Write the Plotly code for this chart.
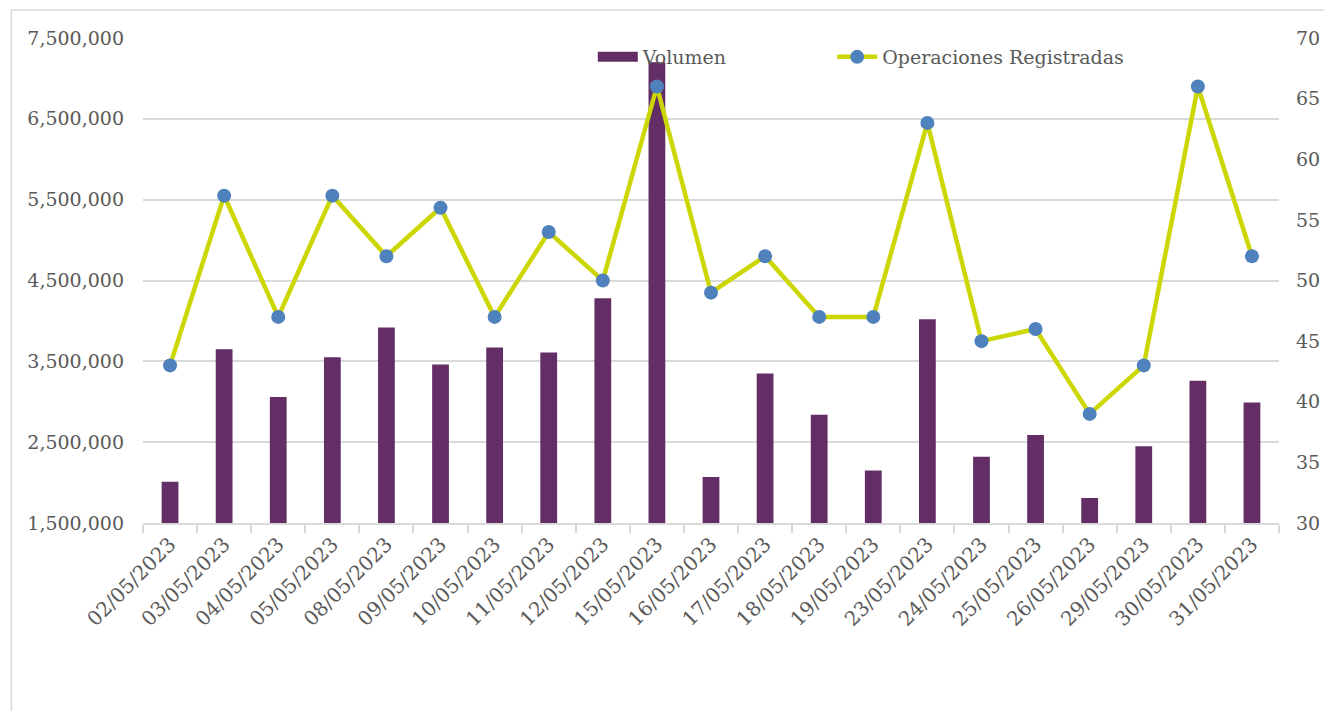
import plotly.graph_objects as go

dates = ["02/05/2023", "03/05/2023", "04/05/2023", "05/05/2023", "08/05/2023",
         "09/05/2023", "10/05/2023", "11/05/2023", "12/05/2023", "15/05/2023",
         "16/05/2023", "17/05/2023", "18/05/2023", "19/05/2023", "23/05/2023",
         "24/05/2023", "25/05/2023", "26/05/2023", "29/05/2023", "30/05/2023",
         "31/05/2023"]
volumen = [2010000, 3650000, 3060000, 3550000, 3920000, 3460000, 3670000,
           3610000, 4280000, 7200000, 2070000, 3350000, 2840000, 2150000,
           4020000, 2320000, 2590000, 1810000, 2450000, 3260000, 2990000]
operaciones = [43, 57, 47, 57, 52, 56, 47, 54, 50, 66, 49, 52, 47, 47, 63,
               45, 46, 39, 43, 66, 52]
left_ticks = [1500000, 2500000, 3500000, 4500000, 5500000, 6500000, 7500000]
right_ticks = [30, 35, 40, 45, 50, 55, 60, 65, 70]

FONT = "DejaVu Serif"
TXT = "#595959"
GRID = "#D9D9D9"
BAR = "#632E66"

fig = go.Figure()
fig.add_trace(go.Bar(x=dates, y=volumen, name="Volumen",
                     marker=dict(color=BAR, line=dict(width=0)),
                     yaxis="y", showlegend=False))
# legend entry for the bars drawn as a wide rectangle (as in the reference)
fig.add_trace(go.Scatter(x=[dates[0]], y=[None], name="Volumen", mode="lines",
                         line=dict(color=BAR, width=10), yaxis="y",
                         legend="legend"))
fig.add_trace(go.Scatter(x=dates, y=operaciones, name="Operaciones Registradas",
                         mode="lines+markers",
                         line=dict(color="#CCD600", width=4.5),
                         marker=dict(color="#4F81BD", size=14),
                         yaxis="y2", legend="legend2"))

W, H = 1324, 703
L, R, T, B = 135, 50, 30, 188
pw = W - L - R
ph = H - T - B

leg_common = dict(orientation="h", y=1.0, xanchor="left", yanchor="top",
                  bgcolor="rgba(0,0,0,0)", itemwidth=40,
                  font=dict(family=FONT, size=19, color=TXT))

fig.update_layout(
    width=W, height=H,
    margin=dict(l=L, r=R, t=T, b=B),
    paper_bgcolor="white", plot_bgcolor="white",
    font=dict(family=FONT, size=18, color=TXT),
    bargap=0.69,
    showlegend=True,
    legend=dict(x=(594 - 8 - L) / pw, **leg_common),
    legend2=dict(x=(834 - 8 - L) / pw, **leg_common),
    xaxis=dict(type="category", range=[-0.5, len(dates) - 0.5],
               showline=True, linecolor=GRID, linewidth=1.5,
               ticks="outside", tickson="boundaries", ticklen=8, tickcolor=GRID,
               tickwidth=1.5, tickangle=-45, showgrid=False,
               tickfont=dict(family=FONT, size=20, color=TXT)),
    yaxis=dict(range=[1500000, 7500000], tickvals=left_ticks,
               tickformat=",d", showgrid=True, gridcolor=GRID, gridwidth=1.5,
               zeroline=False, showline=False, ticks="", ticklabelstandoff=18,
               tickfont=dict(family=FONT, size=19, color=TXT)),
    yaxis2=dict(range=[30, 70], tickvals=right_ticks, overlaying="y", side="right",
                showgrid=False, zeroline=False, showline=False, ticklabelstandoff=16,
                tickfont=dict(family=FONT, size=19, color=TXT)),
    shapes=[dict(type="rect", xref="paper", yref="paper",
                 x0=(3 - L) / pw, x1=1.2, y0=-0.6, y1=1 + (T - 2) / ph,
                 line=dict(color=GRID, width=1.5), fillcolor="rgba(0,0,0,0)",
                 layer="below")],
)

fig.write_html("out.html")
